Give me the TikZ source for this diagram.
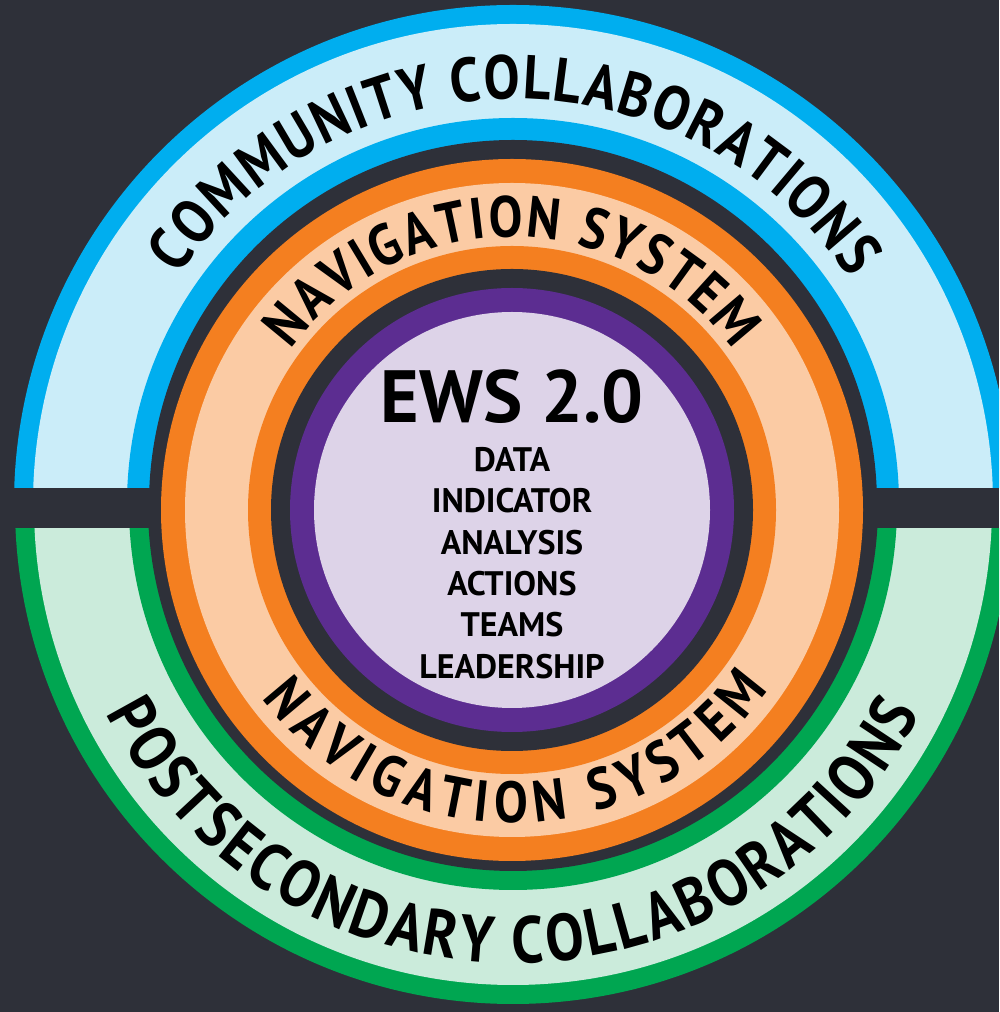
\documentclass[tikz,border=0pt]{standalone}
\usepackage{fontspec}
\setmainfont{PT Sans}
\newfontfamily\curvefont{PT Sans}[FakeStretch=0.87]
\usetikzlibrary{decorations.text}
\definecolor{bg}{HTML}{2E3039}
\definecolor{cblue}{HTML}{00AEEF}
\definecolor{clblue}{HTML}{CBEDF9}
\definecolor{cgreen}{HTML}{00A651}
\definecolor{clgreen}{HTML}{CBEBDB}
\definecolor{corange}{HTML}{F47F20}
\definecolor{cpeach}{HTML}{FBCBA4}
\definecolor{cpurple}{HTML}{5C2D91}
\definecolor{clav}{HTML}{DDD3E8}
\tikzset{
  ctext/.style={anchor=base, inner sep=0pt, text=black, font=\bfseries\fontsize{34}{34}\selectfont},
  arctext/.style 2 args={decorate, decoration={text along path, text align=fit to path,
     text={|\curvefont\bfseries\fontsize{#1}{#1}\selectfont|#2}}}
}
\begin{document}
\begin{tikzpicture}[x=1pt,y=1pt]
\fill[bg] (0,0) rectangle (999,1012);
\useasboundingbox (0,0) rectangle (999,1012);
\coordinate (CT) at (513,508);
\coordinate (CB) at (513,506);
\coordinate (C0) at (512,502);
% top half ring
\begin{scope}
\clip (0,524.3) rectangle (999,1012);
\fill[cblue] (CT) circle[radius=499];
\fill[clblue] (CT) circle[radius=480];
\fill[cblue] (CT) circle[radius=386];
\fill[bg] (CT) circle[radius=364];
\end{scope}
% bottom half ring
\begin{scope}
\clip (0,0) rectangle (999,483);
\fill[cgreen] (CB) circle[radius=498];
\fill[clgreen] (CB) circle[radius=479];
\fill[cgreen] (CB) circle[radius=384];
\fill[bg] (CB) circle[radius=365];
\end{scope}
% navigation ring
\fill[corange] (C0) circle[radius=351];
\fill[cpeach] (C0) circle[radius=327];
\fill[corange] (C0) circle[radius=264];
\fill[bg] (C0) circle[radius=241];
\fill[cpurple] (C0) circle[radius=222];
\fill[clav] (C0) circle[radius=198];
% curved texts
\path[arctext={62}{COMMUNITY COLLABORATIONS}] ([shift={(145.6:405)}]CT) arc[start angle=145.6, end angle=33.8, radius=405];
\path[arctext={66}{POSTSECONDARY COLLABORATIONS}] ([shift={(207:457)}]CB) arc[start angle=207, end angle=333, radius=457];
\path[arctext={58}{NAVIGATION SYSTEM}] ([shift={(144:273)}]C0) arc[start angle=144, end angle=36, radius=273];
\path[arctext={58}{NAVIGATION SYSTEM}] ([shift={(217:313)}]C0) arc[start angle=217, end angle=325, radius=313];
% centre texts
\node[ctext, font=\bfseries\fontsize{74}{74}\selectfont] (ews) at (512,589) {EWS 2.0};
\node[ctext] (data) at (512,540.3) {DATA};
\node[ctext] (ind) at (512,499) {INDICATOR};
\node[ctext] (ana) at (512,457.7) {ANALYSIS};
\node[ctext] (act) at (512,416.4) {ACTIONS};
\node[ctext] (team) at (512,375.1) {TEAMS};
\node[ctext] (lead) at (512,333.8) {LEADERSHIP};
\end{tikzpicture}
\end{document}
